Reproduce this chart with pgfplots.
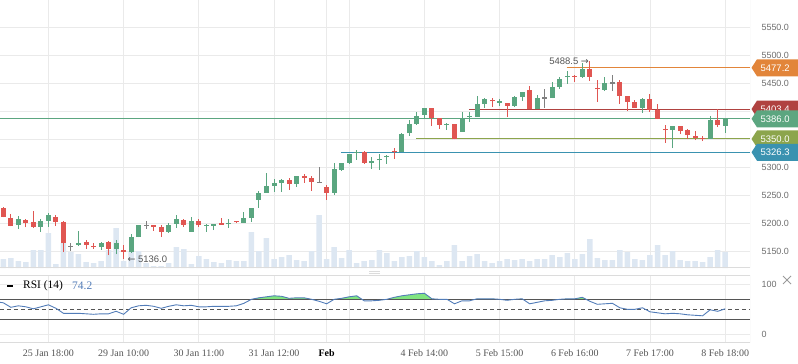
\documentclass[border=0pt]{standalone}
\usepackage{pgfplots}
\pgfplotsset{compat=1.18}
\usepackage{pgfplotstable}
\usepackage{fontspec}
\setmainfont{Liberation Serif}
\newfontfamily\pricefont{Liberation Sans}
\newfontfamily\symfont{DejaVu Sans}

\definecolor{cgreen}{RGB}{90,166,128}
\definecolor{cred}{RGB}{224,86,82}
\definecolor{cgray}{RGB}{128,128,128}
\definecolor{cvol}{RGB}{221,231,242}
\definecolor{cgrid}{RGB}{234,234,234}
\definecolor{cfeb}{RGB}{208,208,208}
\definecolor{corange}{RGB}{226,133,58}
\definecolor{cdred}{RGB}{176,66,64}
\definecolor{cline}{RGB}{92,166,128}
\definecolor{colive}{RGB}{140,165,76}
\definecolor{cteal}{RGB}{58,146,176}
\definecolor{crsi}{RGB}{82,124,184}
\definecolor{crsifill}{RGB}{128,228,128}
\definecolor{ctext}{RGB}{85,85,85}
\definecolor{clabel}{RGB}{110,110,110}
\definecolor{cborder}{RGB}{220,220,220}

\pgfplotstableread{
i o h l c
2 5197 5212.5 5190 5207
5 5193.4 5206.5 5184 5203.6
6 5203.6 5217.3 5193.4 5214.3
10 5161.3 5185.7 5158.9 5164.9
13 5157.1 5166.7 5151.8 5164.3
15 5153.6 5169.6 5144.6 5164.3
17 5149 5180 5147 5175
18 5175 5197 5174.5 5196.4
22 5184 5200 5182.7 5196.4
23 5198.8 5214.3 5191.7 5207.2
25 5184.5 5210.1 5184.5 5203.6
27 5194.7 5197.5 5184.5 5197
28 5195.3 5197.6 5187.5 5197.6
30 5197.6 5207.2 5191.7 5200
32 5200.6 5220.2 5200.6 5208.9
33 5209.5 5227 5202.4 5226.8
34 5241.7 5257.2 5226.8 5253.6
35 5253.6 5289.9 5253.6 5266.1
36 5266.1 5278.6 5255.4 5271.5
37 5271.5 5278.6 5255.4 5276.8
39 5270.3 5284.5 5264.9 5284.5
44 5253.6 5307.2 5250.6 5296.5
45 5294.7 5307.2 5292.9 5307.2
46 5307.2 5323.2 5305.4 5323.2
47 5325 5329.8 5312.5 5327.2
49 5307.8 5317.9 5296.5 5310.7
50 5311.9 5322.6 5295.2 5314.3
51 5317.3 5321.4 5306 5319.7
53 5327.4 5360.7 5327.4 5358.9
54 5360.1 5383.9 5355.4 5376.8
55 5376.8 5398.2 5375 5391.1
56 5392.9 5405.4 5385.7 5405.4
59 5375.2 5378.6 5366.1 5377.2
61 5363.1 5398.2 5363.1 5387.5
62 5389 5398.2 5380.4 5391
63 5389.3 5426.8 5389.3 5412.5
64 5412.5 5423.2 5405.4 5421.4
66 5415 5421.4 5409.5 5417
68 5409.5 5426.8 5407.7 5425
69 5425 5433.9 5418.5 5433.9
71 5403 5428.6 5403 5423.2
73 5423.2 5451.8 5423.2 5442.9
74 5442.9 5460.7 5439.3 5457.1
75 5460.7 5471.4 5448.8 5463.1
77 5461.3 5486 5459.5 5475
80 5437.5 5460.7 5435.7 5450
85 5406 5423.2 5397 5421.4
89 5366.1 5373.2 5333.9 5373.2
94 5350 5391.1 5350 5384
96 5374 5386 5361 5386
}\greentab

\pgfplotstableread{
i o h l c
0 5226.8 5229 5210 5211.3
1 5208.9 5216 5194 5195.2
3 5205.4 5207 5192.3 5200
4 5201.8 5221.4 5191 5192.9
7 5210.7 5214.3 5194.6 5201.8
8 5201.8 5203 5148 5163.7
11 5166.7 5169.6 5153.6 5161.3
12 5159.5 5163.7 5153.6 5156.5
14 5166.7 5167.3 5142.8 5153.6
16 5151 5160 5136 5149
20 5195.9 5196 5186.3 5192.9
21 5192.9 5195.9 5175.6 5184.5
24 5205.4 5206.6 5192.9 5197
26 5204.2 5206.6 5193.5 5195.9
29 5199.4 5209.5 5197 5197
31 5203 5203.6 5200.6 5201
38 5277.4 5280.4 5259 5270.3
40 5284.5 5288.1 5272.1 5280.4
41 5281 5284.5 5257.2 5273.3
43 5264.3 5267.9 5241.7 5253.6
48 5326.8 5328.6 5305.4 5307.2
52 5329 5333.9 5314.3 5326.5
57 5405.4 5405.4 5373.2 5387.5
58 5387.5 5387.5 5367.9 5375
60 5376.8 5376.8 5349.4 5349.4
65 5419.6 5423.2 5407.8 5417.3
67 5414.3 5414.3 5389.9 5409.5
70 5437.5 5444.6 5403 5403
76 5463.1 5464.9 5452.4 5461
78 5475 5488.5 5454.2 5461.3
79 5441.1 5455.4 5416.7 5438.7
82 5451.8 5455.4 5413.1 5427.4
83 5426.8 5426.8 5400.6 5416.7
84 5416.1 5419.6 5406 5406
86 5421.4 5430.4 5398.8 5402.4
87 5402.4 5412.5 5385.7 5385.7
88 5368 5375 5342.9 5366
90 5373.2 5373.2 5358.9 5364.3
91 5366.1 5367.9 5350 5357.1
92 5355.4 5364.3 5348.2 5351.8
93 5352 5355.4 5346.4 5350
95 5384 5403.6 5371.4 5375
}\redtab

\pgfplotstableread{
i o h l c
9 5156.7 5164.9 5150 5158.7
19 5194.9 5203 5189.3 5196.9
42 5271.5 5300 5271.5 5273.5
72 5422.2 5439.3 5406 5424.2
81 5449 5464.3 5435.7 5451
}\graytab

\pgfplotstableread{
i v
0 9
1 10
2 7
3 6
4 18
5 18
6 35
7 4
8 25
9 16
10 14
11 6
12 5
13 7
14 18
15 40
16 7
17 17
18 17
19 5
20 2
21 2
22 5
23 21
24 19
25 4
26 12
27 9
28 6
29 5
30 8
31 7
32 7
33 36
34 17
35 30
36 9
37 11
38 13
39 8
40 7
41 17
42 53
43 9
44 21
45 10
46 18
47 5
48 7
49 8
50 18
51 15
52 7
53 11
54 12
55 17
56 11
57 7
58 3
59 7
60 23
61 7
62 12
63 14
64 7
65 5
66 7
67 9
68 8
69 9
70 7
71 9
72 9
73 13
74 11
75 15
76 9
77 14
78 29
79 10
80 8
81 8
82 18
83 16
84 9
85 8
86 13
87 23
88 13
89 17
90 8
91 7
92 7
93 6
94 11
95 18
96 16
}\voltab

\pgfplotstableread{
x r
-0.44 64
0 63
1 54
2 57
3 55
4 51
5 55
6 59
7 52
8 42
9 42
10 42
11 41
12 40
13 41
14 41
15 46
16 40
17 53
18 57
19 58
20 56
21 52
22 56
23 59
24 57
25 58
26 55
27 55
28 56
29 56
30 56
31 57
32 62
33 70
34 73
35 75
36 77
37 76
38 72
39 73
40 73
41 70
42 66
43 61
44 70
45 72
46 75
47 77
48 67
49 67
50 68
51 70
52 74
53 77
54 79
55 81
56 82
57 71
58 70
59 70
60 61
61 67
62 67
63 71
64 71
65 71
66 70
67 68
68 70
69 71
70 61
71 64
72 67
73 68
74 70
75 71
76 71
77 74
78 66
79 60
80 61
81 62
82 53
83 50
84 50
85 53
86 45
87 43
88 41
89 42
90 41
91 39
92 38
93 37
94 49
95 46
96 51
}\rsitab

\newcommand{\candles}[2]{%
  \addplot[forget plot, draw=none, mark=none,
    error bars/.cd, y dir=plus, y explicit, error mark=none,
    error bar style={draw=#2, line width=1bp}]
    table[x=i, y=l, y error plus expr={\thisrow{h}-\thisrow{l}}] {#1};
  \addplot[forget plot, draw=none, mark=none,
    error bars/.cd, y dir=plus, y explicit, error mark=none,
    error bar style={draw=#2, line width=5bp}]
    table[x=i, y expr={min(\thisrow{o},\thisrow{c})}, y error plus expr={abs(\thisrow{c}-\thisrow{o})}] {#1};
}

\begin{document}
\begin{tikzpicture}[x=1bp,y=1bp]
\useasboundingbox (0,0) rectangle (798,363);
\begin{axis}[
  at={(0bp,363bp)}, anchor=north west, scale only axis,
  width=750bp, height=268bp,
  xmin=-0.439, xmax=99.3, ymin=5119.64, ymax=5598.21,
  axis line style={draw=none}, major tick length=0pt,
  xtick={6,16,26,36,46,56,66,76,86,96}, xticklabels={},
  extra x ticks={43}, extra x tick labels={},
  extra x tick style={grid style={cfeb, line width=0.9bp}},
  ytick={5150,5200,5250,5300,5350,5400,5450,5500,5550},
  yticklabels={5150.0,5200.0,5250.0,5300.0,,,5450.0,5500.0,5550.0},
  yticklabel pos=right,
  yticklabel style={anchor=west, xshift=8bp, text=clabel, font=\pricefont\fontsize{9}{10}\selectfont},
  grid=major, major grid style={cgrid, line width=0.9bp},
  clip=true,
]
\addplot[ybar, bar width=5.5bp, bar shift=0pt, fill=cvol, draw=none, forget plot]
  table[x=i, y expr={5119.64+\thisrow{v}/0.56}] {\voltab};
\draw[cborder, line width=0.9bp] (rel axis cs:0,0.002) -- (rel axis cs:1,0.002) -- (rel axis cs:1,1);
\addplot[corange, line width=1bp, forget plot] coordinates {(74.9,5477.2) (99.3,5477.2)};
\addplot[cdred, line width=1bp, forget plot] coordinates {(61.9,5403.4) (99.3,5403.4)};
\addplot[cline, line width=1bp, forget plot] coordinates {(-0.44,5386.0) (99.3,5386.0)};
\addplot[colive, line width=1bp, forget plot] coordinates {(54.9,5350.0) (99.3,5350.0)};
\addplot[cteal, line width=1bp, forget plot] coordinates {(44.9,5326.3) (99.3,5326.3)};
\candles{\greentab}{cgreen}
\candles{\redtab}{cred}
\candles{\graytab}{cgray}
\node[anchor=east, inner sep=0, text=ctext, font=\pricefont\fontsize{9.5}{10}\selectfont] at (axis cs:77.9,5488.5) {5488.5 {\symfont →}};
\node[anchor=west, inner sep=0, text=ctext, font=\pricefont\fontsize{9.5}{10}\selectfont] at (axis cs:16.5,5136) {{\symfont ←} 5136.0};
\coordinate (tO) at (axis cs:99.3,5477.2);
\coordinate (tD) at (axis cs:99.3,5403.4);
\coordinate (tG) at (axis cs:99.3,5386.0);
\coordinate (tL) at (axis cs:99.3,5350.0);
\coordinate (tT) at (axis cs:99.3,5326.3);
\end{axis}

\begin{axis}[
  at={(0bp,88bp)}, anchor=north west, scale only axis,
  width=750bp, height=67bp,
  xmin=-0.439, xmax=99.3, ymin=-15.4, ymax=118.6,
  axis line style={draw=none}, major tick length=0pt,
  xtick={6,16,26,36,46,56,66,76,86,96},
  xticklabels={25 Jan 18:00,29 Jan 10:00,30 Jan 11:00,31 Jan 12:00,,4 Feb 14:00,5 Feb 15:00,6 Feb 16:00,7 Feb 17:00,8 Feb 18:00},
  xticklabel style={text=ctext, font=\fontsize{10}{12}\selectfont, yshift=-4bp},
  extra x ticks={43}, extra x tick labels={\textbf{Feb}},
  extra x tick style={grid style={cfeb, line width=0.9bp}, xticklabel style={text=black}},
  ytick={0,100}, yticklabels={0,100},
  yticklabel pos=right,
  yticklabel style={anchor=west, xshift=8bp, text=clabel, font=\pricefont\fontsize{9}{10}\selectfont},
  grid=major, major grid style={cgrid, line width=0.9bp},
  clip=true,
]
\draw[cborder, line width=0.9bp] (rel axis cs:0,1) -- (rel axis cs:1,1) -- (rel axis cs:1,0) -- (rel axis cs:0,0);
\begin{scope}
\clip (axis cs:-1,70) rectangle (axis cs:100,118.6);
\addplot[fill=crsifill, draw=none, forget plot] table[x=x, y=r] {\rsitab} \closedcycle;
\end{scope}
\addplot[ctext, line width=0.9bp, forget plot] coordinates {(-0.44,70) (99.3,70)};
\addplot[ctext, line width=0.9bp, forget plot] coordinates {(-0.44,30) (99.3,30)};
\addplot[ctext, line width=0.8bp, dash pattern=on 4bp off 3bp, forget plot] coordinates {(-0.44,50) (99.3,50)};
\addplot[crsi, line width=0.9bp, forget plot] table[x=x, y=r] {\rsitab};
\end{axis}

% price tags
\newcommand{\pricetag}[3]{%
  \fill[#2] ([xshift=1.5bp]#1) -- ([xshift=7bp,yshift=8.5bp]#1) -- ([xshift=48bp,yshift=8.5bp]#1) -- ([xshift=48bp,yshift=-8.5bp]#1) -- ([xshift=7bp,yshift=-8.5bp]#1) -- cycle;
  \node[anchor=west, inner sep=0, text=white, font=\pricefont\fontsize{9.5}{10}\selectfont] at ([xshift=10.5bp]#1) {#3};
}
\pricetag{tO}{corange}{5477.2}
\pricetag{tD}{cdred}{5403.4}
\pricetag{tG}{cline}{5386.0}
\pricetag{tL}{colive}{5350.0}
\pricetag{tT}{cteal}{5326.3}

% RSI header
\draw[black, line width=1.6bp] (7,77) -- (13,77);
\node[anchor=west, inner sep=0, font=\fontsize{11.5}{13}\selectfont] at (23,77) {RSI (14)};
\node[anchor=west, inner sep=0, text=crsi, font=\fontsize{11.5}{13}\selectfont] at (72,77) {74.2};
% close icon and drag handle
\draw[clabel!70, line width=0.8bp] (783,79) -- (791,87) (783,87) -- (791,79);
\draw[cborder, line width=0.8bp] (369,91.5) -- (380,91.5) (369,89.5) -- (380,89.5);
\end{tikzpicture}
\end{document}
